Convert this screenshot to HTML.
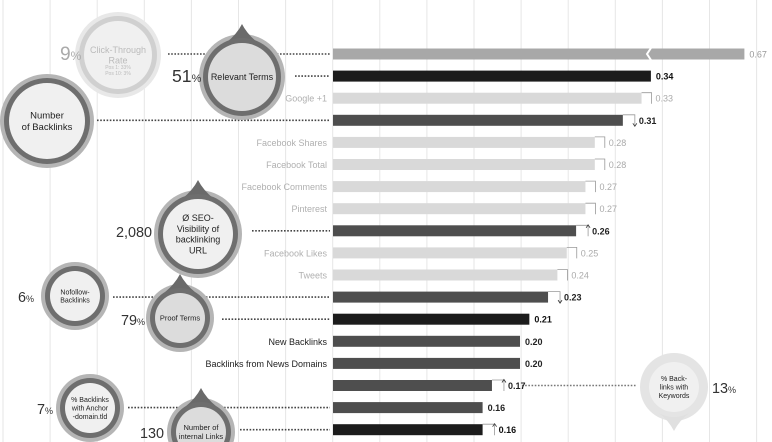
<!DOCTYPE html>
<html><head><meta charset="utf-8"><style>
html,body{margin:0;padding:0;background:#fff;width:772px;height:442px;overflow:hidden;}
svg{display:block;font-family:"Liberation Sans",sans-serif;}
</style></head><body>
<svg id="chart" width="772" height="442" viewBox="0 0 772 442">
<g id="grid"></g>
<g id="dots"></g>
<g id="bars"></g>
<g id="bubbles"></g>
</svg>
<script>
const categories=["Click-Through Rate","Relevant Terms","Google +1","Number of Backlinks","Facebook Shares","Facebook Total","Facebook Comments","Pinterest","SEO-Visibility of backlinking URL","Facebook Likes","Tweets","Nofollow-Backlinks","Proof Terms","New Backlinks","Backlinks from News Domains","% Backlinks with Keywords","% Backlinks with Anchor-domain.tld","Number of internal Links"];
const values=[0.67,0.34,0.33,0.31,0.28,0.28,0.27,0.27,0.26,0.25,0.24,0.23,0.21,0.20,0.20,0.17,0.16,0.16];
const valueLabels=["0.67","0.34","0.33","0.31","0.28","0.28","0.27","0.27","0.26","0.25","0.24","0.23","0.21","0.20","0.20","0.17","0.16","0.16"];
const kinds=["ctr","key","social","dark","social","social","social","social","dark","social","social","dark","key","dark","dark","dark","dark","key"];
const showName=[false,false,true,false,true,true,true,true,false,true,true,false,false,true,true,false,false,false];
const trend=["","","","down","","","","","up","","","down","","","","up","","up"];

const NS="http://www.w3.org/2000/svg";
function mk(tag,attrs,parent){const e=document.createElementNS(NS,tag);for(const k in attrs)e.setAttribute(k,attrs[k]);parent.appendChild(e);return e;}
const x0=333, scale=935, maxShown=0.44;
const xScale=v=>x0+Math.min(v,maxShown)*scale;
const yScale=i=>54+i*22.1;

const grid=document.getElementById('grid');
for(let i=0;i<17;i++){const gx=3+i*47.1;const l=mk('line',{x1:gx,x2:gx,y1:0,y2:442,stroke:'#e6e6e6','stroke-width':1},grid);

}

const fills={ctr:'#a8a8a8',key:'#1c1c1c',social:'#d9d9d9',dark:'#4e4e4e'};
const textCol={ctr:'#999',key:'#111',social:'#aaa',dark:'#222'};
const bars=document.getElementById('bars');
values.forEach((v,i)=>{
 const y=yScale(i), xe=xScale(v);
 const r=mk('rect',{x:x0,y:y-5.5,width:xe-x0,height:11,fill:fills[kinds[i]]},bars);
 
 
 let lx=xe+5;
 if(v>maxShown){
  const bk=mk('path',{d:`M${x0+318} ${y-6} l-4 6 l4 6`,stroke:'#fff','stroke-width':2,fill:'none'},bars);
  
  
 }
 if(kinds[i]==='social'||trend[i]){
  const bx=xe+(kinds[i]==='social'?10:12);
  const b=mk('path',{d:`M${xe} ${y-5.5} H${bx} V${y+5.5}`,stroke:'#999','stroke-width':0.8,fill:'none'},bars);
  
  
  if(trend[i]){const ay=trend[i]==='up'?y-6:y+6;const d=trend[i]==='up'?3:-3;
   const a=mk('path',{d:`M${bx-2} ${ay+d} L${bx} ${ay} L${bx+2} ${ay+d}`,stroke:'#333','stroke-width':0.8,fill:'none'},bars);
   
   }
  lx=bx+4;
 }
 const t=mk('text',{x:lx,y:y+3.5,'font-size':9,fill:textCol[kinds[i]],'font-weight':(kinds[i]==='social'||kinds[i]==='ctr')?'normal':'bold'},bars);
 t.textContent=valueLabels[i];
 
 
 if(showName[i]){
  const n=mk('text',{x:327,y:y+3.5,'font-size':9,'text-anchor':'end',fill:kinds[i]==='social'?'#b0b0b0':'#222'},bars);
  n.textContent=categories[i];
  
  
 }
});

const conns=[[168,330,0],[295,330,1],[97,330,3],[252,330,8],[113,330,11],[222,330,12],[128,330,16],[240,330,17]];
const dots=document.getElementById('dots');
conns.forEach(c=>{const l=mk('line',{x1:c[0],x2:c[1],y1:yScale(c[2]),y2:yScale(c[2]),stroke:'#444','stroke-width':1.6,'stroke-dasharray':'1.6 1.6'},dots);

});
{const l=mk('line',{x1:xScale(values[15])+30,x2:636,y1:yScale(15),y2:yScale(15),stroke:'#777','stroke-width':1.4,'stroke-dasharray':'1.6 1.6'},dots);

}

const bub=[
 [118,55,40,0,["Click-Through","Rate"],9,'faded',"9%",60,60,24],
 [242,77,40,-1,["Relevant Terms"],9,'key',"51%",172,82,22],
 [47,121,44,0,["Number","of Backlinks"],9.5,'norm',"",0,0,0],
 [198,234,41,-1,["Ø SEO-","Visibility of","backlinking","URL"],9,'norm',"2,080",116,237,18],
 [75,296,31,0,["Nofollow-","Backlinks"],7,'norm',"6%",18,302,18],
 [180,318,31,-1,["Proof Terms"],7.5,'key',"79%",121,325,18],
 [674,387,31,1,["% Back-","links with","Keywords"],7,'faded2',"13%",712,393,18],
 [90,408,31,0,["% Backlinks","with Anchor","-domain.tld"],7,'norm',"7%",37,414,18],
 [201,432,31,-1,["Number of","internal Links"],7.5,'key',"130",140,438,18]
];
const bg=document.getElementById('bubbles');
bub.forEach(b=>{
 const [cx,cy,r,tip,lines,fs,st,pct,px,py,pfs]=b;
 const g=mk('g',{},bg);
 
 
 const outer=st==='faded'?'#e8e8e8':st==='faded2'?'#e4e4e4':'#b5b5b5';
 const ring=st==='faded'?'#d0d0d0':st==='faded2'?'#e4e4e4':'#6e6e6e';
 const fill=st==='key'?'#dcdcdc':'#f0f0f0';
 mk('circle',{cx,cy,r:r+3,fill:outer},g);
 if(tip){const ty=cy+tip*(r+13);mk('path',{d:`M${cx-16} ${cy+tip*(r-6)} Q${cx-5} ${cy+tip*(r+3)} ${cx} ${ty} Q${cx+5} ${cy+tip*(r+3)} ${cx+16} ${cy+tip*(r-6)} Z`,fill:st==='faded2'?'#e0e0e0':'#6a6a6a'},g);}
 mk('circle',{cx,cy,r:r-1,fill:ring},g);
 mk('circle',{cx,cy,r:r-6,fill:fill},g);
 const lh=fs*1.2, y0=cy-(lines.length-1)*lh/2+fs*0.35;
 lines.forEach((ln,k)=>{const t=mk('text',{x:cx,y:y0+k*lh,'font-size':fs,'text-anchor':'middle',fill:st==='faded'?'#bbb':'#222'},g);t.textContent=ln;});
 if(st==='faded'){const t=mk('text',{x:cx,y:cy+14,'font-size':5,'text-anchor':'middle',fill:'#bbb'},g);t.textContent="Pos 1: 33%";const t2=mk('text',{x:cx,y:cy+20,'font-size':5,'text-anchor':'middle',fill:'#bbb'},g);t2.textContent="Pos 10: 3%";}
 if(pct){const t=mk('text',{x:px,y:py,'font-size':pfs*0.8,fill:st==='faded'?'#aaa':'#333'},bg);
  const num=pct.replace('%','');t.textContent=num;
  if(pct.endsWith('%')){const s=mk('tspan',{'font-size':pfs*0.5},t);s.textContent='%';}
  
  }
});
</script>
</body></html>
